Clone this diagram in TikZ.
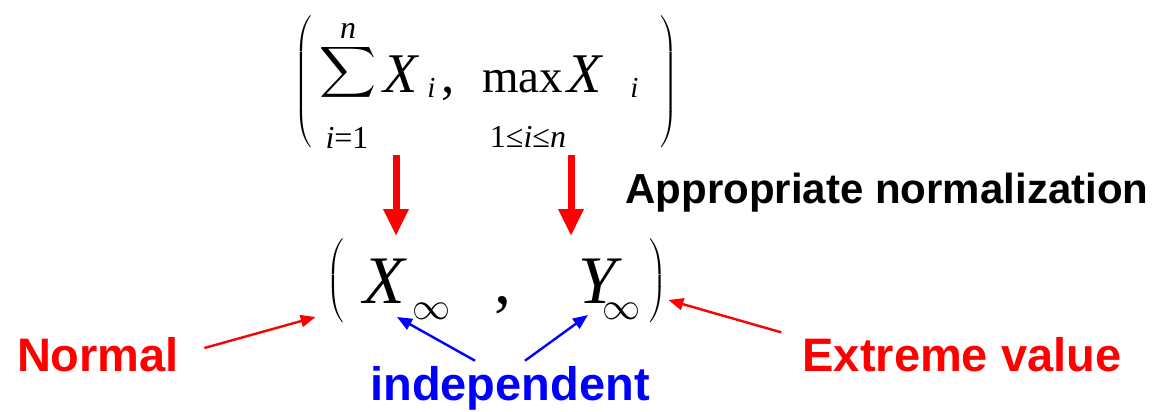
\documentclass[tikz,border=0pt]{standalone}
\usepackage{fix-cm}
\usepackage{graphicx}
\usepackage{fontspec}
\setmainfont{Liberation Serif}
\newfontfamily\labelfont{Liberation Sans}
\usetikzlibrary{arrows.meta, calc, positioning}

\begin{document}
\begin{tikzpicture}[x=0.5pt, y=-0.5pt,
  labeltext/.style={font=\labelfont\bfseries\fontsize{23.5}{28}\selectfont, inner sep=0pt},
  vartext/.style={inner sep=0pt, font=\fontsize{#1}{#1}\selectfont\itshape},
  uptext/.style={inner sep=0pt, font=\fontsize{#1}{#1}\selectfont},
  bigarrow/.style={red, line width=3.5pt, -{Triangle[length=13.5pt, width=12pt]}},
  thinarrow/.style={line width=1.2pt, -{Triangle[length=7.5pt, width=6pt]}}]
  \useasboundingbox (0,0) rectangle (1156,412);

  % top expression
  \node[inner sep=0pt] (toplp) at (304,82) {$\left(\vrule height 37pt depth 32pt width 0pt\right.$};
  \node[inner sep=0pt] (sumop) at (348,72) {\resizebox*{28.5pt}{28.5pt}{$\displaystyle\sum$}};
  \node[vartext=16, anchor=base] (sumtop) at (348,38) {n};
  \node[uptext=16, anchor=base] (sumbot) at (347,148) {\textit{i}=1};
  \node[vartext=28, anchor=base west] (sumx) at (383,92) {X};
  \node[vartext=14.5, anchor=base west] (sumi) at (427,97) {i};
  \node[uptext=26.5, anchor=base west] (topcomma) at (441,92) {,};
  \node[uptext=23.5, anchor=base west] (maxop) at (482,92) {max};
  \node[uptext=16, anchor=base] (maxbot) at (528,147) {1≤\textit{i}≤\textit{n}};
  \node[vartext=28, anchor=base west] (maxx) at (567,92) {X};
  \node[vartext=14.5, anchor=base west] (maxi) at (630,97) {i};
  \node[inner sep=0pt] (toprp) at (668,82) {$\left.\vrule height 37pt depth 32pt width 0pt\right)$};

  % limit pair
  \node[inner sep=0pt] (lparen) at (336,281) {$\left(\vrule height 23.5pt depth 18.5pt width 0pt\right.$};
  \node[vartext=34, anchor=base west] (xlim) at (363,303) {X};
  \node[inner sep=0pt, font=\fontsize{19}{19}\selectfont] (xinf) at (431,311) {$\infty$};
  \node[uptext=34, anchor=base] (comma) at (503,303) {,};
  \node[vartext=34, anchor=base west] (ylim) at (578,303) {Y};
  \node[inner sep=0pt, font=\fontsize{19}{19}\selectfont] (yinf) at (621,311) {$\infty$};
  \node[inner sep=0pt] (rparen) at (657,281) {$\left.\vrule height 23.5pt depth 18.5pt width 0pt\right)$};

  % labels
  \node[labeltext, font=\labelfont\bfseries\fontsize{21}{26}\selectfont] (normaliz) at (887,193) {Appropriate normalization};
  \node[labeltext, red] (normal) at (98,355) {Normal};
  \node[labeltext, red] (extreme) at (962,355) {Extreme value};
  \node[labeltext, blue] (indep) at (510,388) {independent};

  % arrows
  \draw[bigarrow] ($(sumx.base west)+(13,63)$) -- ($(sumx.base west)+(13,144)$);
  \draw[bigarrow] ($(maxx.base west)+(4,63)$) -- ($(maxx.base west)+(4,144)$);
  \draw[thinarrow, red] ($(normal.east)+(25,-7)$) -- ($(lparen.west)+(-10,36)$);
  \draw[thinarrow, red] ($(extreme.north west)+(-21,-5)$) -- ($(rparen.east)+(1,19)$);
  \draw[thinarrow, blue] ($(indep.north)+(-35,-5)$) -- ($(xlim.base west)+(34,14)$);
  \draw[thinarrow, blue] ($(indep.north)+(15,-5)$) -- ($(ylim.base west)+(10,12)$);
\end{tikzpicture}
\end{document}
